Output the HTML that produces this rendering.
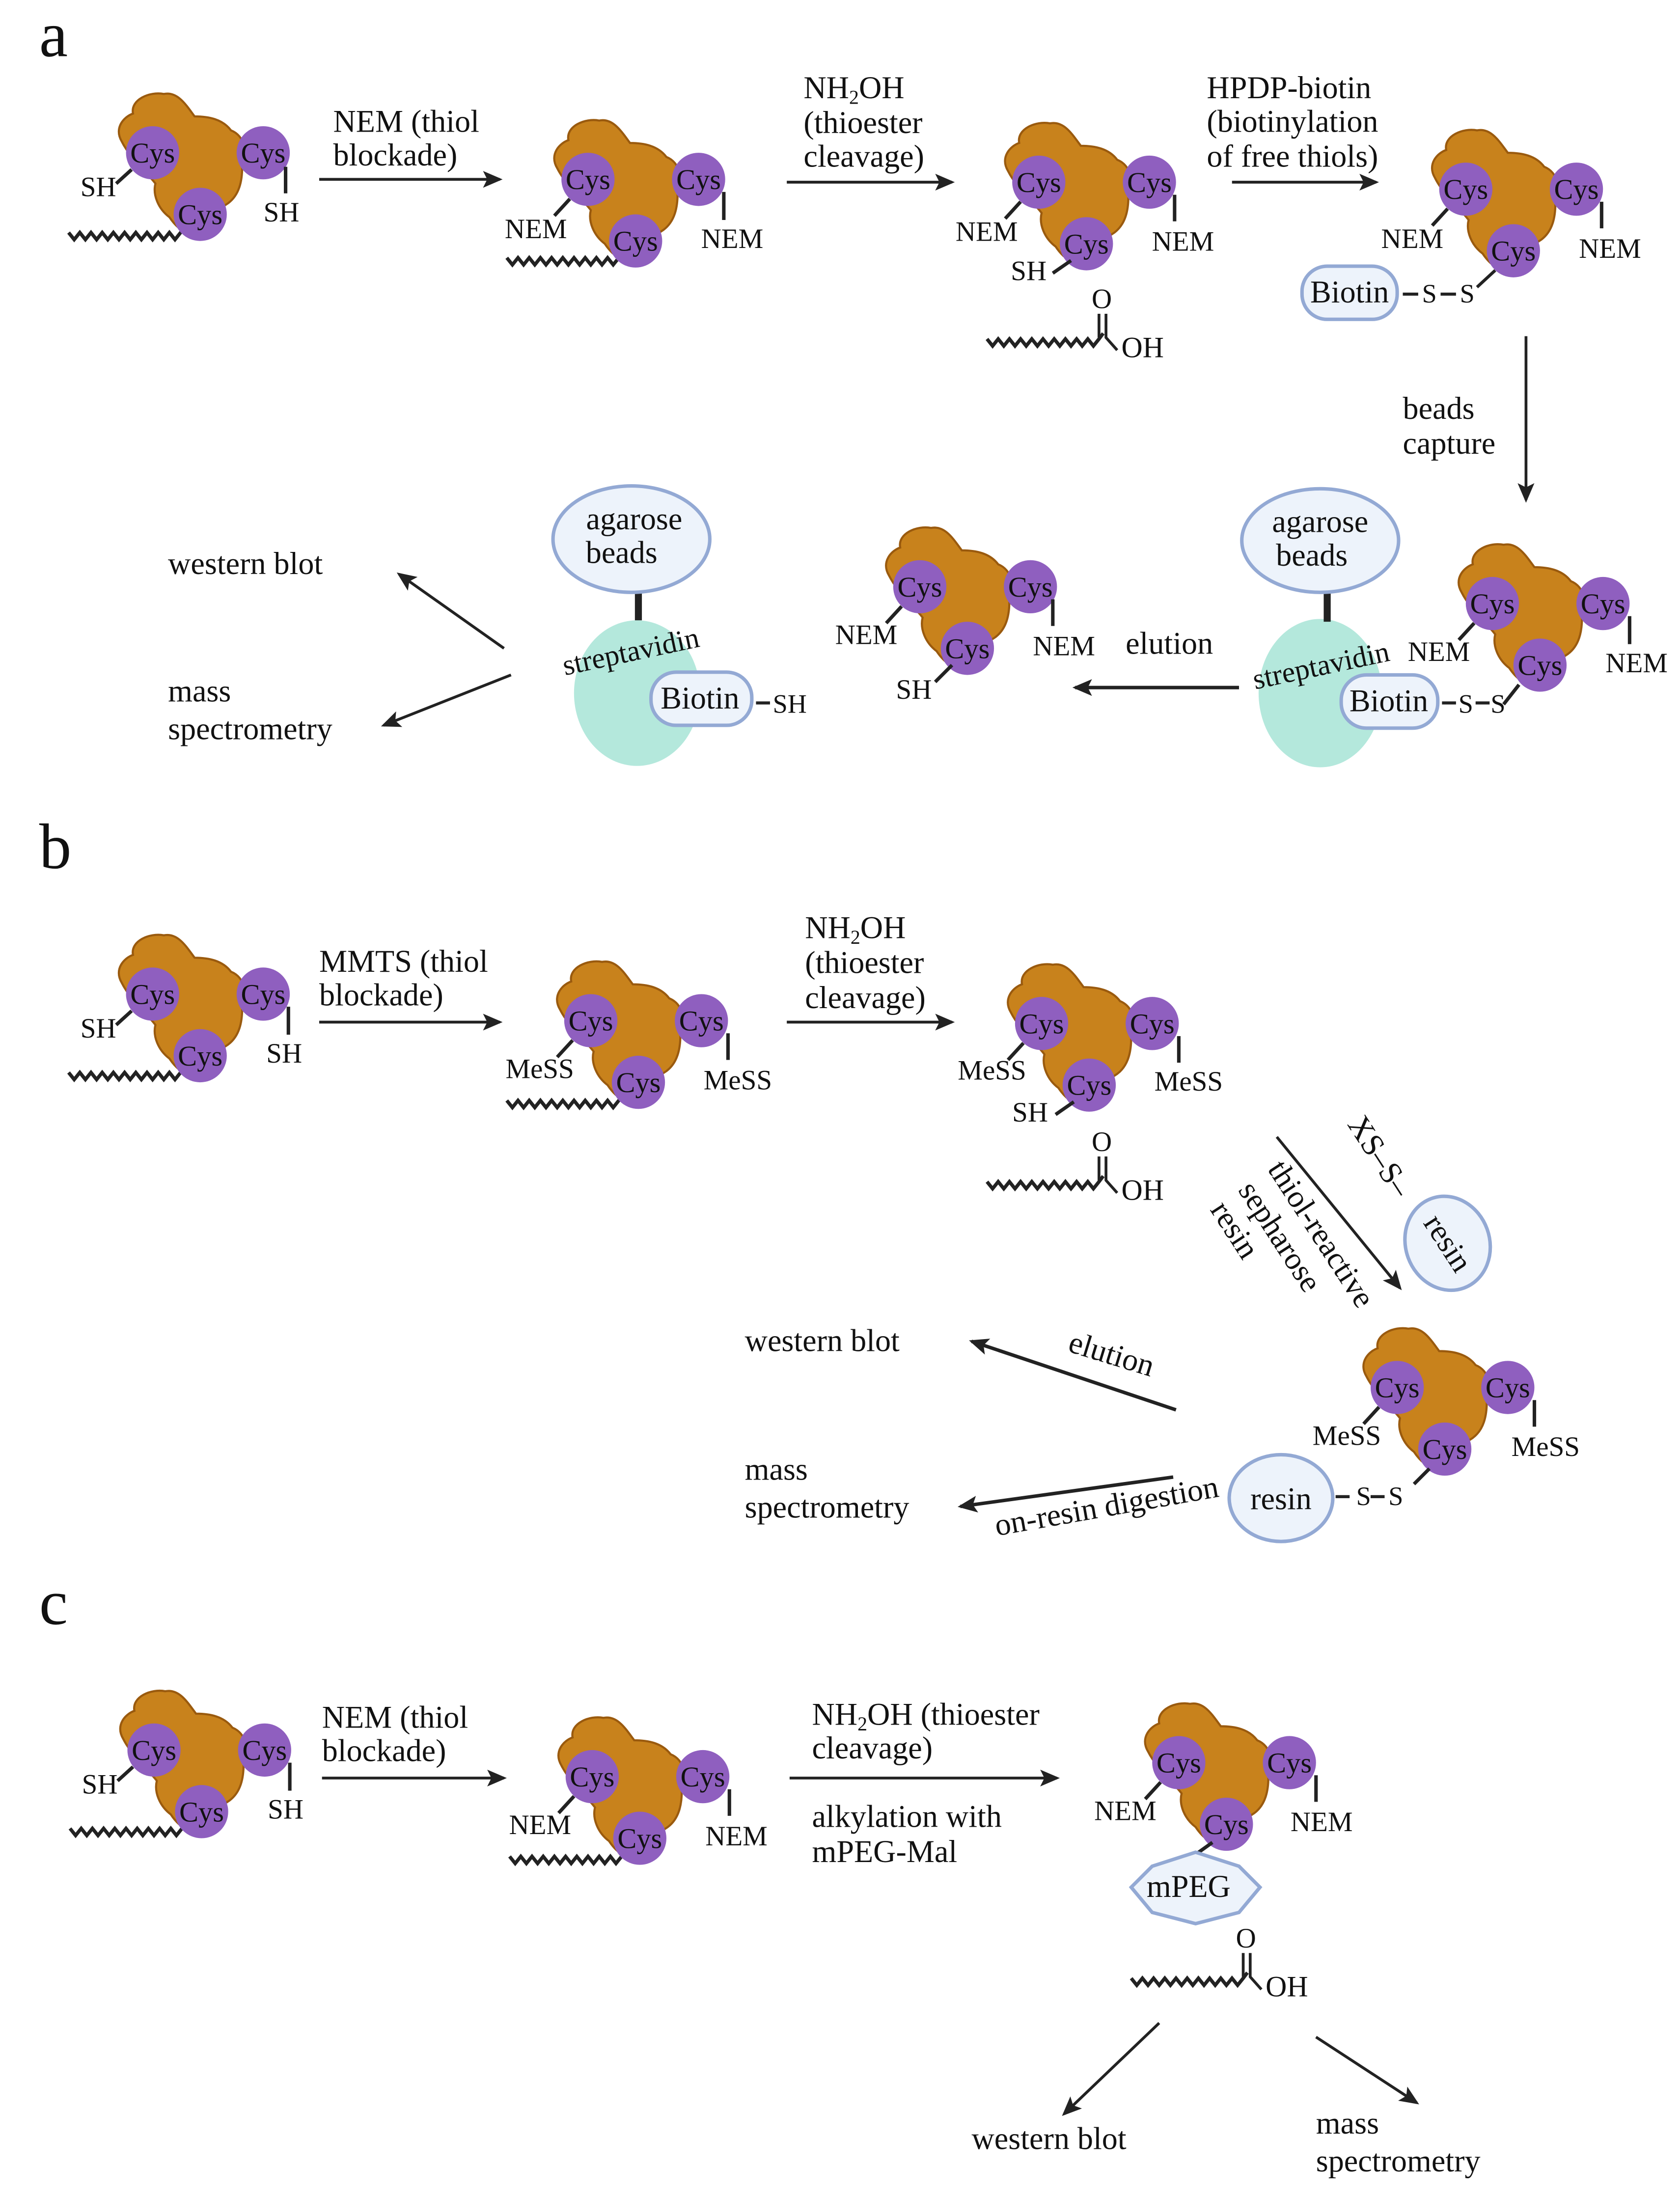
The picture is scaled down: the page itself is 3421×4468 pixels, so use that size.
<!DOCTYPE html>
<html><head><meta charset="utf-8"><style>
html,body{margin:0;padding:0;background:#fff}
svg{display:block}
text{font-family:"Liberation Serif",serif;fill:#111}
</style></head><body>
<svg width="3421" height="4468" viewBox="0 0 1200 1567" xmlns="http://www.w3.org/2000/svg">
<defs>
<marker id="ah" markerWidth="14" markerHeight="12" refX="12" refY="6" orient="auto" markerUnits="userSpaceOnUse">
<path d="M0,0 L14,6 L0,12 L3,6 Z" fill="#222"/></marker>
<g id="prot">
<path d="M -22 -8 C -28 -18 -20 -26 -14 -28 C -16 -38 -2 -44 8 -42 C 18 -44 24 -34 30 -26 C 40 -26 50 -24 56 -16 C 66 -12 68 0 64 10 C 64 20 62 30 54 36 C 48 40 42 44 36 46 L 30 58 C 22 58 16 52 12 46 C 4 40 0 30 2 22 C -4 14 -16 4 -22 -8 Z" fill="#c8821c" stroke="#9a5a0e" stroke-width="1.5"/>
<circle cx="0" cy="0" r="19" fill="#8f5fbf"/>
<circle cx="79" cy="0" r="19" fill="#8f5fbf"/>
<circle cx="34" cy="44" r="19" fill="#8f5fbf"/>
<text x="0" y="7" font-size="20.5" text-anchor="middle">Cys</text>
<text x="79" y="7" font-size="20.5" text-anchor="middle">Cys</text>
<text x="34" y="51" font-size="20.5" text-anchor="middle">Cys</text>
</g>
<path id="wave" d="M0 0 l4 5 l4 -5 l4 5 l4 -5 l4 5 l4 -5 l4 5 l4 -5 l4 5 l4 -5 l4 5 l4 -5 l4 5 l4 -5 l4 5 l4 -5 l4 5 l4 -5 l4 5 l4 -5 l3 -4" fill="none" stroke="#222" stroke-width="2.5"/>
<g id="acid">
<use href="#wave" x="0" y="0"/>
<path d="M80 -1 L80 -18 M85 -18 L85 -1 L93 8" fill="none" stroke="#222" stroke-width="2"/>
<text x="82" y="-22" font-size="20" text-anchor="middle">O</text>
<text x="96" y="13" font-size="21">OH</text>
</g>
</defs>

<text x="28" y="40" font-size="46">a</text>
<text x="28" y="620" font-size="46">b</text>
<text x="28" y="1160" font-size="46">c</text>

<g font-size="22.5">
<!-- ===== A ===== -->
<use href="#wave" x="49" y="166"/>
<use href="#prot" x="109" y="109"/>
<path d="M94 121 L83 131 M204 119 L204 138" stroke="#222" stroke-width="2.5"/>
<text x="83" y="140" font-size="20" text-anchor="end">SH</text>
<text x="201" y="158" font-size="20" text-anchor="middle">SH</text>
<line x1="228" y1="128" x2="357" y2="128" stroke="#222" stroke-width="2" marker-end="url(#ah)"/>
<text x="238" y="94">NEM (thiol</text><text x="238" y="118">blockade)</text>
<use href="#wave" x="362" y="184"/>
<use href="#prot" x="420" y="128"/>
<path d="M407 142 L396 154 M517 137 L517 157" stroke="#222" stroke-width="2.5"/>
<text x="405" y="170" font-size="20" text-anchor="end">NEM</text>
<text x="523" y="177" font-size="20" text-anchor="middle">NEM</text>
<line x1="562" y1="130" x2="680" y2="130" stroke="#222" stroke-width="2" marker-end="url(#ah)"/>
<text x="574" y="70">NH<tspan font-size="14" dy="4">2</tspan><tspan dy="-4">OH</tspan></text>
<text x="574" y="95">(thioester</text><text x="574" y="119">cleavage)</text>
<use href="#prot" x="742" y="130"/>
<path d="M729 144 L718 156 M839 139 L839 158 M765 186 L752 195" stroke="#222" stroke-width="2.5"/>
<text x="727" y="172" font-size="20" text-anchor="end">NEM</text>
<text x="845" y="179" font-size="20" text-anchor="middle">NEM</text>
<text x="722" y="200" font-size="20">SH</text>
<use href="#acid" x="705" y="242"/>
<line x1="880" y1="130" x2="983" y2="130" stroke="#222" stroke-width="2" marker-end="url(#ah)"/>
<text x="862" y="70">HPDP-biotin</text><text x="862" y="94">(biotinylation</text><text x="862" y="119">of free thiols)</text>
<use href="#prot" x="1047" y="135"/>
<path d="M1034 149 L1023 161 M1144 144 L1144 163" stroke="#222" stroke-width="2.5"/>
<text x="1031" y="177" font-size="20" text-anchor="end">NEM</text>
<text x="1150" y="184" font-size="20" text-anchor="middle">NEM</text>
<rect x="930" y="190" width="68" height="38" rx="18" fill="#edf3fb" stroke="#93a9d4" stroke-width="2.5"/>
<text x="964" y="216" text-anchor="middle">Biotin</text>
<path d="M1002 210 L1013 210 M1029 210 L1040 210 M1055 205 L1068 193" stroke="#222" stroke-width="2.2"/>
<text x="1021" y="216" font-size="19" text-anchor="middle">S</text>
<text x="1048" y="216" font-size="19" text-anchor="middle">S</text>
<line x1="1090" y1="240" x2="1090" y2="357" stroke="#222" stroke-width="2" marker-end="url(#ah)"/>
<text x="1002" y="299">beads</text><text x="1002" y="324">capture</text>
<ellipse cx="943" cy="495" rx="44" ry="53" fill="#b4e8dc"/>
<line x1="948" y1="422" x2="948" y2="444" stroke="#222" stroke-width="5"/>
<ellipse cx="943" cy="386" rx="56" ry="37" fill="#edf3fb" stroke="#93a9d4" stroke-width="2.5"/>
<text x="943" y="380" text-anchor="middle">agarose</text><text x="937" y="404" text-anchor="middle">beads</text>
<use href="#prot" x="1066" y="431"/>
<path d="M1053 445 L1042 457 M1164 440 L1164 460 M1085 489 L1074 503" stroke="#222" stroke-width="2.5"/>
<text x="945" y="482" font-size="21" text-anchor="middle" transform="rotate(-12 945 482)">streptavidin</text>
<text x="1050" y="472" font-size="20" text-anchor="end">NEM</text>
<text x="1169" y="480" font-size="20" text-anchor="middle">NEM</text>
<rect x="958" y="482" width="69" height="38" rx="18" fill="#edf3fb" stroke="#93a9d4" stroke-width="2.5"/>
<text x="992" y="508" text-anchor="middle">Biotin</text>
<path d="M1030 502 L1040 502 M1054 502 L1064 502" stroke="#222" stroke-width="2.2"/>
<text x="1047" y="509" font-size="19" text-anchor="middle">S</text>
<text x="1070" y="509" font-size="19" text-anchor="middle">S</text>
<line x1="885" y1="491" x2="768" y2="491" stroke="#222" stroke-width="2.5" marker-end="url(#ah)"/>
<text x="804" y="467">elution</text>
<use href="#prot" x="657" y="419"/>
<path d="M644 433 L633 445 M752 428 L752 447 M680 475 L668 487" stroke="#222" stroke-width="2.5"/>
<text x="641" y="460" font-size="20" text-anchor="end">NEM</text>
<text x="760" y="468" font-size="20" text-anchor="middle">NEM</text>
<text x="640" y="499" font-size="20">SH</text>
<ellipse cx="455" cy="495" rx="45" ry="52" fill="#b4e8dc"/>
<line x1="456" y1="422" x2="456" y2="443" stroke="#222" stroke-width="5"/>
<ellipse cx="451" cy="385" rx="56" ry="38" fill="#edf3fb" stroke="#93a9d4" stroke-width="2.5"/>
<text x="453" y="378" text-anchor="middle">agarose</text><text x="444" y="402" text-anchor="middle">beads</text>
<text x="452" y="472" font-size="21" text-anchor="middle" transform="rotate(-12 452 472)">streptavidin</text>
<rect x="465" y="480" width="72" height="38" rx="18" fill="#edf3fb" stroke="#93a9d4" stroke-width="2.5"/>
<text x="500" y="506" text-anchor="middle">Biotin</text>
<path d="M540 502 L550 502" stroke="#222" stroke-width="2.2"/>
<text x="552" y="509" font-size="19">SH</text>
<line x1="360" y1="463" x2="285" y2="410" stroke="#222" stroke-width="2" marker-end="url(#ah)"/>
<line x1="365" y1="482" x2="274" y2="518" stroke="#222" stroke-width="2" marker-end="url(#ah)"/>
<text x="120" y="410">western blot</text>
<text x="120" y="501">mass</text><text x="120" y="528">spectrometry</text>

<!-- ===== B ===== -->
<use href="#wave" x="49" y="766"/>
<use href="#prot" x="109" y="710"/>
<path d="M94 722 L83 732 M206 719 L206 739" stroke="#222" stroke-width="2.5"/>
<text x="83" y="741" font-size="20" text-anchor="end">SH</text>
<text x="203" y="759" font-size="20" text-anchor="middle">SH</text>
<line x1="228" y1="730" x2="357" y2="730" stroke="#222" stroke-width="2" marker-end="url(#ah)"/>
<text x="228" y="694">MMTS (thiol</text><text x="228" y="718">blockade)</text>
<use href="#wave" x="362" y="786"/>
<use href="#prot" x="422" y="729"/>
<path d="M409 743 L398 755 M520 738 L520 757" stroke="#222" stroke-width="2.5"/>
<text x="410" y="770" font-size="20" text-anchor="end">MeSS</text>
<text x="527" y="778" font-size="20" text-anchor="middle">MeSS</text>
<line x1="562" y1="730" x2="680" y2="730" stroke="#222" stroke-width="2" marker-end="url(#ah)"/>
<text x="575" y="670">NH<tspan font-size="14" dy="4">2</tspan><tspan dy="-4">OH</tspan></text>
<text x="575" y="695">(thioester</text><text x="575" y="720">cleavage)</text>
<use href="#prot" x="744" y="731"/>
<path d="M731 745 L720 757 M842 740 L842 759 M767 787 L754 796" stroke="#222" stroke-width="2.5"/>
<text x="733" y="771" font-size="20" text-anchor="end">MeSS</text>
<text x="849" y="779" font-size="20" text-anchor="middle">MeSS</text>
<text x="723" y="801" font-size="20">SH</text>
<use href="#acid" x="705" y="844"/>
<line x1="912" y1="812" x2="1000" y2="920" stroke="#222" stroke-width="2" marker-end="url(#ah)"/>
<g transform="rotate(57 905 835)"><text x="905" y="835">thiol-reactive</text></g>
<g transform="rotate(57 884 850)"><text x="884" y="850">sepharose</text></g>
<g transform="rotate(57 864 864)"><text x="864" y="864">resin</text></g>
<g transform="rotate(57 962 803)"><text x="962" y="803">XS–S–</text></g>
<ellipse cx="1034" cy="888" rx="30" ry="34" transform="rotate(-20 1034 888)" fill="#edf3fb" stroke="#93a9d4" stroke-width="2.5"/>
<g transform="rotate(57 1034 888)"><text x="1034" y="895" text-anchor="middle">resin</text></g>
<use href="#prot" x="998" y="991"/>
<path d="M985 1005 L974 1017 M1096 1000 L1096 1019 M1021 1049 L1010 1060" stroke="#222" stroke-width="2.5"/>
<text x="962" y="1032" font-size="20" text-anchor="middle">MeSS</text>
<text x="1104" y="1040" font-size="20" text-anchor="middle">MeSS</text>
<ellipse cx="915" cy="1070" rx="37" ry="31" fill="#edf3fb" stroke="#93a9d4" stroke-width="2.5"/>
<text x="915" y="1078" text-anchor="middle">resin</text>
<path d="M954 1069 L964 1069 M979 1069 L989 1069" stroke="#222" stroke-width="2.2"/>
<text x="974" y="1075" font-size="19" text-anchor="middle">S</text>
<text x="997" y="1075" font-size="19" text-anchor="middle">S</text>
<line x1="840" y1="1007" x2="694" y2="958" stroke="#222" stroke-width="2.5" marker-end="url(#ah)"/>
<g transform="rotate(17 762 965)"><text x="762" y="965">elution</text></g>
<line x1="838" y1="1055" x2="686" y2="1076" stroke="#222" stroke-width="2.5" marker-end="url(#ah)"/>
<g transform="rotate(-10 712 1097)"><text x="712" y="1097">on-resin digestion</text></g>
<text x="532" y="965">western blot</text>
<text x="532" y="1057">mass</text><text x="532" y="1084">spectrometry</text>

<!-- ===== C ===== -->
<use href="#wave" x="50" y="1306"/>
<use href="#prot" x="110" y="1250"/>
<path d="M95 1262 L84 1272 M207 1259 L207 1279" stroke="#222" stroke-width="2.5"/>
<text x="84" y="1281" font-size="20" text-anchor="end">SH</text>
<text x="204" y="1299" font-size="20" text-anchor="middle">SH</text>
<line x1="230" y1="1270" x2="360" y2="1270" stroke="#222" stroke-width="2" marker-end="url(#ah)"/>
<text x="230" y="1234">NEM (thiol</text><text x="230" y="1258">blockade)</text>
<use href="#wave" x="364" y="1326"/>
<use href="#prot" x="423" y="1269"/>
<path d="M410 1283 L399 1295 M521 1278 L521 1297" stroke="#222" stroke-width="2.5"/>
<text x="408" y="1310" font-size="20" text-anchor="end">NEM</text>
<text x="526" y="1318" font-size="20" text-anchor="middle">NEM</text>
<line x1="564" y1="1270" x2="755" y2="1270" stroke="#222" stroke-width="2" marker-end="url(#ah)"/>
<text x="580" y="1232">NH<tspan font-size="14" dy="4">2</tspan><tspan dy="-4">OH (thioester</tspan></text>
<text x="580" y="1256">cleavage)</text>
<text x="580" y="1305">alkylation with</text><text x="580" y="1330">mPEG-Mal</text>
<use href="#prot" x="842" y="1259"/>
<path d="M829 1273 L818 1285 M940 1268 L940 1287 M866 1316 L852 1326" stroke="#222" stroke-width="2.5"/>
<text x="826" y="1300" font-size="20" text-anchor="end">NEM</text>
<text x="944" y="1308" font-size="20" text-anchor="middle">NEM</text>
<polygon points="854,1323 885,1333 900,1348 885,1366 854,1374 823,1366 808,1348 823,1333" fill="#edf3fb" stroke="#93a9d4" stroke-width="2.5"/>
<text x="849" y="1355" text-anchor="middle">mPEG</text>
<use href="#acid" x="808" y="1413"/>
<line x1="828" y1="1445" x2="760" y2="1510" stroke="#222" stroke-width="2" marker-end="url(#ah)"/>
<line x1="940" y1="1455" x2="1012" y2="1502" stroke="#222" stroke-width="2" marker-end="url(#ah)"/>
<text x="694" y="1535">western blot</text>
<text x="940" y="1524">mass</text><text x="940" y="1551">spectrometry</text>
</g>
</svg>
</body></html>
